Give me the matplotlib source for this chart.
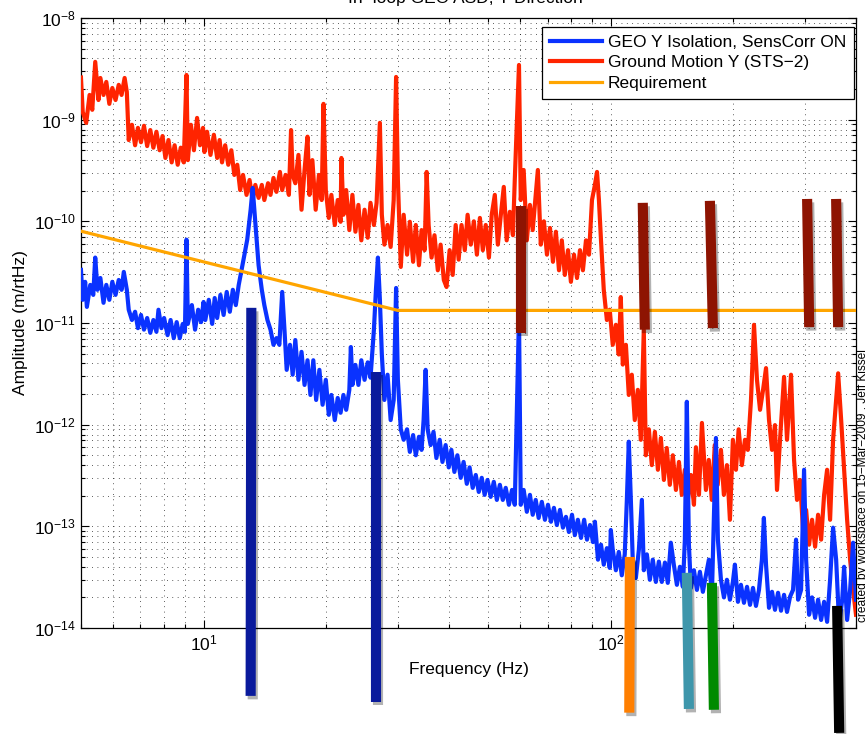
import matplotlib
matplotlib.use('Agg')
import matplotlib.pyplot as plt
import matplotlib.patheffects as pe
from matplotlib.ticker import LogLocator, NullFormatter

plt.rcParams['font.family'] = ['Liberation Sans', 'DejaVu Sans']
plt.rcParams['mathtext.fontset'] = 'custom'
plt.rcParams['mathtext.rm'] = 'Liberation Sans'
plt.rcParams['mathtext.default'] = 'regular'

# Ground motion, STS-2 seismometer, Y direction (m/rtHz)
gnd_freq = [
    5.0, 5.05, 5.15, 5.25, 5.33, 5.42, 5.52, 5.58, 5.68, 5.77, 5.87, 5.97, 6.08, 6.19, 6.29, 6.40,
    6.48, 6.55, 6.67, 6.79, 6.90, 7.02, 7.14, 7.27, 7.40, 7.53, 7.66, 7.80, 7.93, 8.06, 8.20, 8.35,
    8.49, 8.64, 8.79, 8.94, 9.08, 9.15, 9.31, 9.47, 9.64, 9.80, 9.97, 10.05, 10.2, 10.4, 10.6, 10.8,
    10.95, 11.1, 11.3, 11.5, 11.7, 11.9, 12.1, 12.3, 12.5, 12.75, 12.97, 13.2, 13.4, 13.65, 13.9, 14.1,
    14.4, 14.6, 14.85, 15.1, 15.4, 15.6, 15.9, 16.2, 16.4, 16.55, 16.8, 17.1, 17.4, 17.7, 18.0, 18.2,
    18.5, 18.85, 19.2, 19.5, 19.7, 19.96, 20.3, 20.6, 21.0, 21.35, 21.7, 21.8, 22.05, 22.4, 22.8, 23.2,
    23.6, 24.0, 24.4, 24.85, 25.3, 25.7, 26.2, 26.6, 27.1, 27.4, 27.8, 28.3, 28.8, 29.3, 29.7, 30.0,
    30.5, 31.0, 31.6, 32.1, 32.7, 33.2, 33.8, 34.3, 34.9, 35.3, 35.7, 36.3, 36.9, 37.6, 38.2, 38.9,
    39.5, 40.2, 40.9, 41.6, 42.3, 43.0, 43.8, 44.5, 45.3, 46.1, 46.9, 47.7, 48.5, 49.3, 50.2, 51.0,
    51.9, 52.8, 53.7, 54.6, 55.5, 56.5, 57.5, 58.1, 59.5, 60.1, 61.1, 62.2, 63.3, 64.3, 65.4, 66.2,
    67.3, 68.5, 69.7, 70.9, 72.1, 73.3, 74.6, 75.8, 77.1, 78.5, 79.8, 81.2, 82.6, 84.0, 85.4, 86.9,
    88.4, 89.9, 91.4, 92.5, 93.5, 94.6, 96.1, 97.8, 99.4, 101.1, 102.9, 104.6, 105.8, 107.0, 108.9, 110.7,
    112.6, 114.5, 116.5, 118.5, 120.5, 121.9, 124.0, 126.1, 128.3, 130.5, 132.7, 135.0, 137.2, 139.6, 142.0, 144.5,
    147.0, 149.4, 152.0, 154.6, 157.3, 160.0, 161.8, 164.6, 167.4, 171.2, 174.0, 177.0, 180.0, 183.0, 186.4, 189.5,
    192.8, 196.1, 199.4, 202.9, 206.0, 209.8, 213.5, 217.0, 220.9, 224.7, 228.5, 232.5, 236.5, 240.5, 244.6, 248.8,
    253.0, 255.9, 260.3, 266.3, 270.8, 277.0, 281.8, 286.6, 291.5, 296.5, 301.7, 306.8, 312.0, 317.4, 322.8, 328.4,
    334.0, 339.7, 345.5, 351.4, 357.5, 361.6, 367.8, 374.0, 380.4, 386.9, 393.5, 400.0,
]
gnd_amp = [
    2.6e-9, 1.19e-9, 9.3e-10, 1.75e-9, 1.25e-9, 3.7e-9, 1.56e-9, 2.57e-9, 1.75e-9, 2.35e-9, 1.43e-9, 2.05e-9, 1.56e-9, 2.2e-9, 1.75e-9, 2.57e-9,
    1.87e-9, 6.3e-10, 8.9e-10, 5.6e-10, 8.3e-10, 6.0e-10, 8.7e-10, 5.5e-10, 7.9e-10, 5.3e-10, 7.6e-10, 5.0e-10, 6.9e-10, 4.2e-10, 6.3e-10, 3.8e-10,
    5.6e-10, 3.6e-10, 5.3e-10, 3.8e-10, 2.75e-9, 4.0e-10, 8.9e-10, 5.0e-10, 1.04e-9, 5.6e-10, 8.3e-10, 4.8e-10, 7.6e-10, 4.5e-10, 7.1e-10, 4.2e-10,
    6.3e-10, 3.8e-10, 5.6e-10, 3.6e-10, 5.0e-10, 2.86e-10, 3.6e-10, 2.03e-10, 2.86e-10, 1.82e-10, 2.55e-10, 1.62e-10, 2.28e-10, 1.7e-10, 2.28e-10, 1.62e-10,
    2.37e-10, 1.82e-10, 2.67e-10, 1.95e-10, 3.06e-10, 2.03e-10, 2.86e-10, 1.82e-10, 7.9e-10, 2.86e-10, 2.37e-10, 4.5e-10, 1.3e-10, 3.2e-10, 6.8e-10, 1.82e-10,
    4.0e-10, 1.3e-10, 2.86e-10, 1.62e-10, 1.43e-9, 2.03e-10, 1.08e-10, 1.82e-10, 9.2e-11, 1.62e-10, 9.9e-11, 4.2e-10, 1.16e-10, 2.03e-10, 8.2e-11, 1.82e-10,
    7.9e-11, 1.45e-10, 6.5e-11, 1.3e-10, 6.9e-11, 1.52e-10, 9.2e-11, 1.52e-10, 9.3e-10, 1.16e-10, 5.9e-11, 9.2e-11, 5.6e-11, 1.62e-10, 2.63e-9, 2.55e-10,
    3.56e-11, 1.16e-10, 4.7e-11, 9.9e-11, 4.0e-11, 9.2e-11, 3.7e-11, 8.2e-11, 5.2e-11, 3.06e-10, 9.2e-11, 4.4e-11, 7.3e-11, 3.3e-11, 5.9e-11, 2.65e-11,
    2.26e-11, 5.2e-11, 2.97e-11, 9.2e-11, 4.2e-11, 9.2e-11, 5.2e-11, 1.16e-10, 5.9e-11, 1.0e-10, 4.7e-11, 1.08e-10, 5.2e-11, 9.2e-11, 4.4e-11, 1.16e-10,
    1.82e-10, 5.9e-11, 1.16e-10, 2.18e-10, 6.5e-11, 1.24e-10, 7.3e-11, 2.55e-10, 3.45e-9, 1.62e-10, 3.2e-10, 6.5e-11, 1.45e-10, 8.2e-11, 1.82e-10, 3.2e-10,
    5.9e-11, 1.0e-10, 4.7e-11, 8.6e-11, 4.0e-11, 7.9e-11, 3.3e-11, 6.5e-11, 2.97e-11, 5.2e-11, 2.54e-11, 4.7e-11, 2.77e-11, 5.2e-11, 3.3e-11, 6.5e-11,
    4.7e-11, 1.62e-10, 2.28e-10, 3.06e-10, 1.62e-10, 6.5e-11, 2.12e-11, 1.07e-11, 1.35e-11, 6.1e-12, 9.6e-12, 4.9e-12, 1.8e-11, 3.9e-12, 6.1e-12, 1.96e-12,
    3.1e-12, 1.11e-12, 2.2e-12, 7.1e-13, 8.6e-12, 5.0e-13, 9.0e-13, 4.0e-13, 8.5e-13, 3.6e-13, 7.4e-13, 2.86e-13, 5.9e-13, 2.56e-13, 5.0e-13, 2.28e-13,
    4.3e-13, 2.04e-13, 3.6e-13, 1.82e-13, 3.2e-13, 1.63e-13, 6.0e-13, 2.04e-13, 1.04e-12, 2.28e-13, 4.5e-13, 1.82e-13, 6.3e-13, 2.56e-13, 5.65e-13, 2.04e-13,
    4.0e-13, 1.16e-13, 7.1e-13, 3.6e-13, 9.0e-13, 4.0e-13, 7.1e-13, 5.65e-13, 1.75e-12, 9.6e-12, 2.76e-12, 1.4e-12, 2.2e-12, 3.6e-12, 1.11e-12, 5.65e-13,
    9.9e-13, 2.28e-13, 7.1e-13, 2.95e-12, 7.1e-13, 3.1e-12, 4.5e-13, 1.82e-13, 2.86e-13, 9.2e-14, 1.45e-13, 6.6e-14, 1.16e-13, 6.3e-14, 1.3e-13, 7.4e-14,
    2.04e-13, 3.6e-13, 1.16e-13, 7.1e-13, 1.75e-12, 3.2e-12, 1.11e-12, 3.6e-13, 1.16e-13, 4.7e-14, 2.37e-14, 1.35e-14,
]

# In-loop GEO table motion, Y direction, sensor correction on (m/rtHz)
geo_freq = [
    5.0, 5.05, 5.12, 5.17, 5.27, 5.36, 5.42, 5.49, 5.58, 5.68, 5.77, 5.87, 5.97, 6.08, 6.19, 6.29,
    6.37, 6.48, 6.55, 6.67, 6.79, 6.90, 7.02, 7.14, 7.27, 7.40, 7.53, 7.66, 7.75, 7.88, 8.00, 8.16,
    8.30, 8.45, 8.59, 8.74, 8.89, 9.00, 9.08, 9.15, 9.36, 9.53, 9.70, 9.86, 10.0, 10.1, 10.3, 10.5,
    10.65, 10.8, 11.0, 11.2, 11.4, 11.6, 11.8, 12.0, 12.2, 12.4, 12.6, 12.8, 13.05, 13.2, 13.3, 13.5,
    13.65, 13.9, 14.1, 14.35, 14.6, 14.85, 15.1, 15.35, 15.6, 15.8, 16.0, 16.3, 16.55, 16.8, 17.1, 17.4,
    17.7, 18.0, 18.3, 18.6, 18.9, 19.25, 19.6, 19.96, 20.3, 20.6, 21.0, 21.35, 21.7, 22.05, 22.4, 22.8,
    23.0, 23.2, 23.6, 24.0, 24.4, 24.85, 25.3, 25.7, 26.2, 26.5, 26.8, 27.1, 27.4, 27.8, 28.3, 28.8,
    29.3, 29.7, 30.0, 30.5, 31.0, 31.6, 32.1, 32.7, 33.2, 33.8, 34.3, 34.7, 35.1, 35.5, 36.1, 36.7,
    37.3, 38.0, 38.6, 39.3, 40.0, 40.6, 41.3, 42.0, 42.8, 43.5, 44.3, 45.0, 45.8, 46.6, 47.4, 48.2,
    49.0, 49.8, 50.7, 51.6, 52.5, 53.4, 54.3, 55.2, 56.2, 57.2, 58.1, 59.5, 60.1, 61.1, 62.2, 63.3,
    64.3, 65.4, 66.5, 67.7, 68.9, 70.1, 71.3, 72.5, 73.7, 75.0, 76.3, 77.6, 78.9, 80.3, 81.6, 83.0,
    84.5, 86.0, 87.4, 88.9, 90.4, 91.4, 93.0, 94.6, 96.1, 97.8, 99.4, 100.0, 101.1, 102.9, 104.6, 106.4,
    108.2, 109.5, 110.7, 112.0, 113.2, 115.2, 117.2, 119.2, 120.5, 122.6, 124.7, 126.8, 129.0, 131.2, 133.4, 135.8,
    138.0, 140.4, 142.8, 145.3, 147.8, 150.3, 152.0, 153.7, 155.5, 157.3, 160.0, 162.7, 165.5, 168.3, 171.2, 174.1,
    177.1, 179.1, 181.2, 183.2, 186.4, 189.6, 192.8, 196.1, 199.4, 201.7, 205.2, 208.7, 212.3, 216.0, 219.7, 223.4,
    227.2, 231.1, 235.0, 237.6, 240.5, 244.6, 248.8, 253.0, 257.4, 261.8, 266.3, 270.8, 275.5, 280.2, 285.0, 288.3,
    293.2, 298.2, 301.7, 306.8, 312.0, 317.4, 322.8, 328.4, 334.0, 339.7, 345.5, 351.4, 357.5, 363.7, 370.0, 374.0,
    380.4, 386.9, 393.5, 400.0,
]
geo_amp = [
    3.33e-11, 1.69e-11, 2.54e-11, 1.44e-11, 2.37e-11, 1.89e-11, 4.4e-11, 2.12e-11, 2.77e-11, 1.58e-11, 2.37e-11, 1.69e-11, 2.54e-11, 1.89e-11, 2.65e-11, 2.12e-11,
    3.18e-11, 2.12e-11, 1.35e-11, 1.07e-11, 1.29e-11, 8.9e-12, 1.2e-11, 8.6e-12, 1.12e-11, 8.0e-12, 1.07e-11, 8.2e-12, 1.35e-11, 8.9e-12, 1.12e-11, 7.6e-12,
    1.07e-11, 7.1e-12, 1.02e-11, 7.1e-12, 9.8e-12, 8.2e-12, 6.6e-11, 9.8e-12, 1.5e-11, 8.6e-12, 1.35e-11, 1.02e-11, 1.61e-11, 1.07e-11, 1.69e-11, 9.8e-12,
    1.76e-11, 1.12e-11, 1.89e-11, 1.2e-11, 2.02e-11, 1.29e-11, 2.12e-11, 1.5e-11, 2.37e-11, 3.33e-11, 4.7e-11, 6.6e-11, 1.3e-10, 2.13e-10, 1.45e-10, 6.6e-11,
    3.7e-11, 2.12e-11, 1.5e-11, 1.07e-11, 8.6e-12, 6.1e-12, 7.1e-12, 6.1e-12, 2.02e-11, 8.6e-12, 3.46e-12, 6.1e-12, 3.1e-12, 6.8e-12, 2.76e-12, 5.2e-12,
    2.46e-12, 4.3e-12, 1.96e-12, 4.3e-12, 1.75e-12, 3.46e-12, 1.57e-12, 2.76e-12, 1.25e-12, 1.96e-12, 1.11e-12, 1.83e-12, 1.31e-12, 1.96e-12, 1.4e-12, 2.2e-12,
    5.8e-12, 2.46e-12, 3.87e-12, 2.46e-12, 4.3e-12, 2.76e-12, 4.1e-12, 2.9e-12, 8.6e-12, 2.12e-11, 4.4e-11, 1.69e-11, 4.9e-12, 1.75e-12, 3.1e-12, 1.11e-12,
    1.75e-12, 2.21e-11, 2.76e-12, 9.0e-13, 7.1e-13, 9.0e-13, 5.4e-13, 7.9e-13, 5.0e-13, 7.6e-13, 5.65e-13, 1.11e-12, 3.46e-12, 9.0e-13, 6.3e-13, 8.5e-13,
    4.7e-13, 7.1e-13, 4.3e-13, 6.3e-13, 3.8e-13, 5.65e-13, 3.43e-13, 5.0e-13, 3.0e-13, 4.3e-13, 2.62e-13, 3.8e-13, 2.39e-13, 3.2e-13, 2.18e-13, 3.0e-13,
    2.04e-13, 2.86e-13, 1.95e-13, 2.74e-13, 1.82e-13, 2.56e-13, 1.82e-13, 2.39e-13, 1.63e-13, 2.28e-13, 1.63e-13, 1.2e-11, 1.63e-13, 2.28e-13, 1.39e-13, 2.04e-13,
    1.3e-13, 1.82e-13, 1.21e-13, 1.74e-13, 1.16e-13, 1.63e-13, 1.11e-13, 1.52e-13, 1.03e-13, 1.45e-13, 9.7e-14, 1.24e-13, 8.8e-14, 1.3e-13, 8.2e-14, 1.16e-13,
    7.7e-14, 1.16e-13, 7.4e-14, 1.03e-13, 7.0e-14, 1.11e-13, 4.7e-14, 6.6e-14, 4.2e-14, 6.1e-14, 3.9e-14, 9.2e-14, 5.9e-14, 3.7e-14, 5.6e-14, 3.3e-14,
    5.3e-14, 1.82e-13, 6.8e-13, 1.82e-13, 4.7e-14, 3.1e-14, 5.9e-14, 1.82e-13, 3.7e-14, 5.3e-14, 2.98e-14, 4.7e-14, 2.84e-14, 4.5e-14, 2.84e-14, 4.4e-14,
    2.78e-14, 6.9e-14, 4.2e-14, 2.66e-14, 4.0e-14, 2.54e-14, 7.4e-14, 1.68e-12, 6.6e-14, 2.48e-14, 3.7e-14, 2.37e-14, 3.57e-14, 2.27e-14, 3.3e-14, 4.7e-14,
    2.12e-14, 1.16e-13, 7.4e-13, 7.4e-14, 2.98e-14, 2.0e-14, 2.98e-14, 1.9e-14, 2.84e-14, 4.2e-14, 1.81e-14, 2.66e-14, 1.77e-14, 2.54e-14, 1.69e-14, 2.48e-14,
    1.65e-14, 2.37e-14, 4.7e-14, 1.21e-13, 4.2e-14, 1.58e-14, 2.27e-14, 1.51e-14, 2.22e-14, 1.48e-14, 2.12e-14, 1.44e-14, 2.03e-14, 2.37e-14, 7.4e-14, 1.9e-14,
    2.37e-14, 3.6e-13, 4.7e-14, 1.35e-14, 2.0e-14, 1.26e-14, 1.9e-14, 1.2e-14, 1.81e-14, 1.15e-14, 2.98e-14, 9.7e-14, 4.7e-14, 1.08e-14, 1.9e-14, 4.0e-14,
    1.2e-14, 2.37e-14, 6.9e-14, 1.9e-14,
]

# isolation requirement
req_freq = [5.0, 30.0, 400.0]
req_amp = [8.0e-11, 1.33e-11, 1.33e-11]

# hand-drawn markers: (f_top, a_top, f_bottom, a_bottom, colour)
markers = [
    (13.1, 1.41e-11, 13.05, 2.15e-15, '#0a1a9c'),
    (26.5, 3.3e-12, 26.5, 1.88e-15, '#0a1a9c'),
    (60.1, 1.42e-10, 60.1, 8.0e-12, '#8e1402'),
    (119.8, 1.52e-10, 121.2, 8.6e-12, '#8e1402'),
    (175.1, 1.59e-10, 178.1, 8.9e-12, '#8e1402'),
    (303.4, 1.66e-10, 307.0, 9.1e-12, '#8e1402'),
    (357.5, 1.66e-10, 361.6, 9.1e-12, '#8e1402'),
    (111.4, 5.0e-14, 111.0, 1.47e-15, '#ff7f00'),
    (153.7, 3.49e-14, 155.5, 1.6e-15, '#3e96ab'),
    (177.1, 2.78e-14, 179.1, 1.57e-15, '#008a00'),
    (359.5, 1.65e-14, 363.7, 9.3e-16, '#000000'),
]

fig = plt.figure(figsize=(8.65, 7.34), dpi=100)
ax = fig.add_axes([0.0936, 0.1444, 0.8960, 0.8311])

ax.loglog(gnd_freq, gnd_amp, color='#ff2400', lw=3.0, zorder=3, label='Ground Motion Y (STS\u22122)')
ax.loglog(geo_freq, geo_amp, color='#0a32ff', lw=3.0, zorder=4, label='GEO Y Isolation, SensCorr ON')
ax.loglog(req_freq, req_amp, color='#ffa500', lw=2.3, zorder=5, label='Requirement')

ax.set_xlim(5, 400)
ax.set_ylim(1e-14, 1e-8)

ax.xaxis.set_major_locator(LogLocator(base=10))
ax.xaxis.set_minor_locator(LogLocator(base=10, subs=range(2, 10)))
ax.yaxis.set_major_locator(LogLocator(base=10, numticks=10))
ax.yaxis.set_minor_locator(LogLocator(base=10, subs=range(2, 10), numticks=20))
ax.xaxis.set_minor_formatter(NullFormatter())
ax.yaxis.set_minor_formatter(NullFormatter())

ax.grid(True, which='both', color='k', linestyle=(0, (1, 6)), linewidth=0.55)
ax.set_axisbelow(True)
ax.tick_params(which='both', direction='in', top=True, right=True, labelsize=12.5, width=0.8)
ax.tick_params(which='major', length=6)
ax.tick_params(which='minor', length=3)
ax.tick_params(axis='x', pad=4)
ax.tick_params(axis='y', pad=4)
for s in ax.spines.values():
    s.set_linewidth(0.9)

ax.set_xlabel('Frequency (Hz)', fontsize=12.5)
ax.set_ylabel('Amplitude (m/rtHz)', fontsize=12.5)
ax.xaxis.set_label_coords(0.5, -0.055)
ax.yaxis.set_label_coords(-0.068, 0.5)

h, l = ax.get_legend_handles_labels()
leg = ax.legend([h[1], h[0], h[2]], [l[1], l[0], l[2]], loc='upper right',
                bbox_to_anchor=(0.9974, 0.9852), borderaxespad=0, fontsize=12.5,
                handlelength=3.0, handletextpad=0.35, borderpad=0.45, labelspacing=0.3,
                fancybox=False, framealpha=1, edgecolor='k')
leg.get_frame().set_linewidth(0.9)
leg.set_zorder(6)

shadow = [pe.SimpleLineShadow(offset=(1.5, -2.5), shadow_color='k', alpha=0.3), pe.Normal()]
for f0, a0, f1, a1, c in markers:
    ax.plot([f0, f1], [a0, a1], color=c, lw=7.3, solid_capstyle='butt',
            clip_on=False, zorder=10, path_effects=shadow)

fig.text(0.5376, 0.9959, 'In\u2212loop GEO ASD, Y Direction', ha='center', va='baseline', fontsize=12.5)
fig.text(0.991, 0.153, 'created by workspace on 15\u2212Mar\u22122009 , Jeff Kissel',
         rotation=90, ha='left', va='bottom', fontsize=8.6)

fig.savefig('out.png', dpi=100)
